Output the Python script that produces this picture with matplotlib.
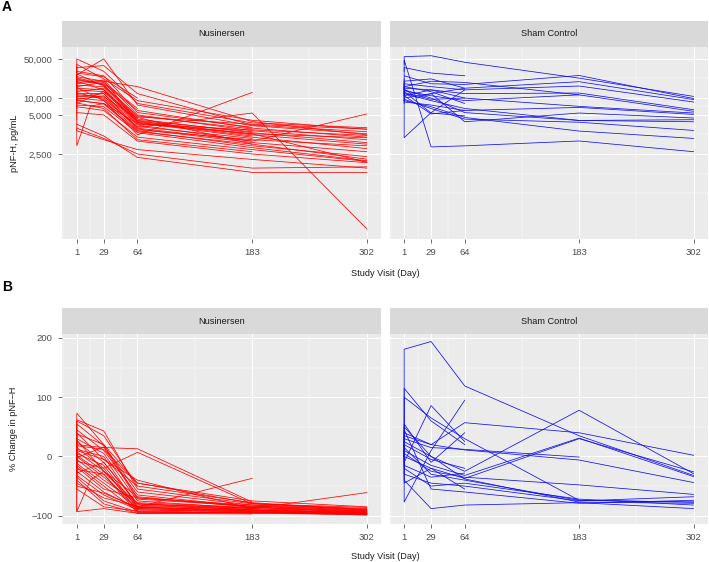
import numpy as np
import matplotlib
matplotlib.use("Agg")
import matplotlib.pyplot as plt

plt.rcParams['font.family'] = ['Liberation Sans', 'DejaVu Sans']

nan = np.nan

# first column = screening, plotted at day 1 like the original
visit_days = [1, 1, 15, 29, 64, 183, 302]
day_ticks = [1, 29, 64, 183, 302]
groups = ["Nusinersen", "Sham Control"]

# panel A, pNF-H in pg/mL (scr, d1, d15, d29, d64, d183, d302)
nus_pnfh = [
    [16000, 50000, nan, 30000, 8000, 3600, 2950],
    [22000, 40000, nan, 22000, 9000, 4000, 2750],
    [30000, 35000, nan, 38000, 12000, 3300, 2500],
    [20000, 26000, nan, 50000, 7500, 3200, 2300],
    [14000, 24000, nan, 20000, 16000, 3800, 2200],
    [18000, 21000, nan, 18000, 6000, 2900, 2000],
    [12000, 19000, nan, 21000, 5000, 2600, 1800],
    [10000, 17000, nan, 16000, 4200, 2400, 1600],
    [25000, 15000, nan, 14000, 3900, 2200, 1500],
    [9000, 13000, nan, 15000, 3600, 2000, 1250],
    [11000, 12000, nan, 12000, 3300, 1700, 5200],
    [8000, 11000, nan, 10000, 3000, 5400, 46],
    [7000, 10000, nan, 9000, 2200, 12600, nan],
    [13000, 9500, nan, 11000, 2800, 1600, 1100],
    [6500, 9000, nan, 8000, 2600, 1400, 900],
    [15000, 8000, nan, 13000, 4500, 1500, 810],
    [6000, 7500, nan, 7000, 2400, 1300, 760],
    [5500, 7000, nan, 6000, 2000, 1200, 740],
    [3500, 3400, nan, 2100, 870, 470, 470],
    [3000, 2900, nan, 1900, 1000, 560, 590],
    [6000, 1400, 7100, 8000, 3500, 2300, 710],
    [28000, 30000, nan, 25000, 5500, 3000, nan],
    [20000, 22000, nan, 17000, 4800, 2800, nan],
    [15000, 18000, nan, 20000, 4000, 2500, nan],
    [12000, 14000, nan, 13000, 3700, 2100, nan],
    [10000, 12500, nan, 9500, 3100, 1900, nan],
    [9000, 10500, nan, 12000, 2900, 1700, nan],
    [8500, 9200, nan, 7800, 2500, 1500, nan],
    [7000, 8200, nan, 6500, 1800, 1100, nan],
    [36000, 28000, nan, 24000, 10000, nan, nan],
    [17000, 16000, nan, 19000, 6500, nan, nan],
    [11000, 11500, nan, 10500, 4300, nan, nan],
    [26000, 20000, nan, 14000, 3400, 2700, 2150],
    [19000, 23000, nan, 17500, 3800, 2300, 1950],
    [4000, 5500, nan, 5000, 1700, 1000, 700],
    [2800, 2600, nan, 1800, 1200, 800, 560],
    [13000, 15500, nan, 9000, 2700, 1800, 1400],
    [24000, 27000, nan, 16500, 4600, 3400, 2800],
]

sham_pnfh = [
    [40000, 55000, nan, 57000, 43600, 22700, 10700],
    [30000, 48000, nan, 1340, 1400, 1710, 1100],
    [15000, 25000, nan, 18000, 17500, 25300, 9800],
    [22000, 20000, nan, 22000, 15000, 19600, 9400],
    [17000, 18000, nan, 16000, 14000, 16400, 8500],
    [14000, 15000, nan, 14000, 12000, 12300, 6200],
    [12000, 13500, nan, 11000, 9000, 11400, 5800],
    [11000, 12500, nan, 9500, 10000, 7100, 5400],
    [10000, 11000, nan, 5200, 6000, 6800, 5100],
    [9000, 10000, nan, 12000, 3770, 5400, 4400],
    [16000, 14000, nan, 10000, 5500, 3980, 4100],
    [20000, 12000, nan, 9000, 6500, 3980, 3770],
    [13000, 9000, nan, 7000, 4500, 2570, 1900],
    [8000, 9500, nan, 6500, 4200, 3700, 2640],
    [20000, 1960, nan, 5500, 14000, nan, nan],
    [25000, 35000, nan, 28000, 25000, nan, nan],
    [15000, 16000, nan, 20000, 19000, 11400, nan],
    [12000, 11000, nan, 14000, 10000, nan, nan],
    [9000, 8500, nan, 7500, 6000, nan, nan],
    [14000, 16000, nan, 13000, 8000, nan, nan],
    [18000, 13000, nan, 5400, 4800, nan, nan],
    [11000, 14500, 10000, 12000, 15000, nan, nan],
]

# panel B, % change in pNF-H
nus_pct = [
    [0, 73, nan, 20, -45, -75, -85],
    [0, 62, nan, 43, -55, -80, -88],
    [0, 60, nan, 35, -50, -78, -90],
    [0, 55, nan, 18, -60, -82, -92],
    [0, 45, nan, 10, -65, -85, -95],
    [0, 38, nan, 20, -70, -84, -93],
    [0, 30, nan, 5, -75, -88, -96],
    [0, 25, nan, -10, -80, -90, -97],
    [0, 20, nan, 15, 13, -77, nan],
    [0, 15, nan, -20, 7, -80, -86],
    [0, 12, nan, 0, -85, -92, -97],
    [0, 10, nan, -5, -40, -88, -61],
    [0, 8, nan, -25, -85, -37, nan],
    [0, 5, nan, -15, -88, -93, -98],
    [0, 2, nan, -30, -90, -94, -99],
    [0, 0, nan, -35, -82, -90, -96],
    [0, -5, nan, -40, -78, -86, -92],
    [0, -8, nan, -20, -92, -95, -97],
    [0, -12, nan, -45, -86, -90, -95],
    [0, -15, nan, -50, -93, -96, -98],
    [0, -18, nan, -55, -70, -82, -89],
    [0, -22, nan, -30, -95, -94, -96],
    [0, -25, nan, -60, -88, -91, -94],
    [0, -28, nan, -10, -80, -87, nan],
    [0, -32, nan, -65, -90, -93, nan],
    [0, -35, nan, -75, -94, -95, nan],
    [0, -40, nan, -80, -96, -97, nan],
    [0, -45, nan, -70, -84, -89, nan],
    [0, -55, nan, -85, -92, nan, nan],
    [0, -93, nan, -88, -96, -95, -97],
    [0, -93, -40, -25, -80, -88, -93],
    [0, 40, nan, -5, -50, nan, nan],
    [0, 28, nan, -25, -68, -86, -94],
    [0, 18, nan, 12, -45, -79, -91],
    [0, -2, nan, 16, -72, -84, -90],
    [0, -50, nan, -62, -86, -92, -96],
]

sham_pct = [
    [0, 181, nan, 194, 119, 35, -32],
    [0, 115, nan, 60, 20, nan, nan],
    [0, 100, nan, 65, 30, -74, -77],
    [0, -10, nan, 86, 25, nan, nan],
    [0, -77, nan, 10, 95, nan, nan],
    [0, 25, nan, 0, -25, 78, -29],
    [0, 40, nan, 20, 57, 40, 2],
    [0, 10, nan, -15, -32, 31, -34],
    [0, 0, nan, -20, -37, 30, -26],
    [0, 35, nan, 20, 11, -6, -44],
    [0, 30, nan, 15, 12, -1, nan],
    [0, 5, nan, -25, -35, -48, -64],
    [0, -40, nan, -88, -82, -78, -88],
    [0, 15, nan, -30, -40, -74, -77],
    [0, 50, nan, 0, -38, -77, -79],
    [0, -20, nan, -50, -45, -72, -82],
    [0, -30, nan, -45, -50, -75, -68],
    [0, 45, nan, -55, -60, -79, -74],
    [0, 20, nan, -5, -20, nan, nan],
    [0, 55, nan, -10, 40, nan, nan],
    [0, -15, nan, -35, -28, nan, nan],
    [0, -45, nan, -20, -55, nan, nan],
]

# the original labels its 1,000 break "2,500"
a_breaks = [1000, 5000, 10000, 50000]
a_labels = ["2,500", "5,000", "10,000", "50,000"]
b_breaks = [-100, 0, 100, 200]

W, H = 709, 562
fig = plt.figure(figsize=(W / 100, H / 100), dpi=100)

def px(x0, y0, x1, y1):
    return [x0 / W, 1 - y1 / H, (x1 - x0) / W, (y1 - y0) / H]

panel_x = [(62.3, 381.3), (389.7, 708.0)]
rows_y = [(21, 47, 239), (308.3, 334, 524.3)]
xlim = (-14.05, 317.05)

def minor_mid(b, lo, hi):
    b = list(b)
    b = [b[0] - (b[1] - b[0])] + b + [b[-1] + (b[-1] - b[-2])]
    m = [(u + v) / 2 for u, v in zip(b[:-1], b[1:])] + [b[0], b[-1]]
    return [v for v in m if lo <= v <= hi]

def style(ax, left):
    ax.set_facecolor('#EBEBEB')
    for s in ax.spines.values():
        s.set_visible(False)
    ax.set_xticks(day_ticks)
    ax.set_xticklabels([str(d) for d in day_ticks])
    ax.set_xticks(minor_mid(day_ticks, *xlim), minor=True)
    ax.tick_params(axis='both', length=3.2, width=0.5, color='#333333',
                   labelsize=6.8, labelcolor='#4D4D4D')
    ax.tick_params(axis='x', pad=3)
    ax.tick_params(axis='y', pad=4)
    ax.tick_params(which='minor', length=0)
    ax.grid(which='major', color='white', lw=0.75)
    ax.grid(which='minor', color='white', lw=0.35)
    ax.set_axisbelow(True)
    if not left:
        ax.tick_params(axis='y', labelleft=False, length=0)

def strip(rect, text):
    s = fig.add_axes(rect)
    s.set_facecolor('#D9D9D9')
    s.set_xticks([]); s.set_yticks([])
    for sp in s.spines.values():
        sp.set_visible(False)
    s.text(0.5, 0.5, text, ha='center', va='center', fontsize=6.6, color='#1A1A1A',
           transform=s.transAxes)

def draw(ax, rows, color):
    d = np.array(visit_days, float)
    for r in rows:
        r = np.array(r, float)
        m = ~np.isnan(r)
        ax.plot(d[m], r[m], color=color, lw=0.55)

colors = ['#FF0000', '#1010F0']
data_a = [nus_pnfh, sham_pnfh]
data_b = [nus_pct, sham_pct]

for row, (st, top, bot) in enumerate(rows_y):
    for k, (x0, x1) in enumerate(panel_x):
        strip(px(x0, st, x1, top), groups[k])
        ax = fig.add_axes(px(x0, top, x1, bot))
        style(ax, k == 0)
        if row == 0:
            ylim = (30.3, 81700)
            ax.set_yscale('log')
            ax.set_yticks(a_breaks)
            ax.set_yticklabels(a_labels)
            mins = minor_mid(np.log10(a_breaks), *np.log10(ylim))
            ax.set_yticks(10 ** np.array(mins), minor=True)
            ax.yaxis.set_minor_formatter(matplotlib.ticker.NullFormatter())
            draw(ax, data_a[k], colors[k])
        else:
            ylim = (-114.5, 206.7)
            ax.set_yticks(b_breaks)
            ax.set_yticks(minor_mid(b_breaks, *ylim), minor=True)
            draw(ax, data_b[k], colors[k])
        ax.tick_params(which='minor', length=0)
        ax.set_ylim(*ylim)
        ax.set_xlim(*xlim)

tkw = dict(fontsize=6.6, color='#1A1A1A', ha='center', va='center')
fig.text(15 / W, 1 - 143 / H, "pNF-H, pg/mL", rotation=90, **tkw)
fig.text(14 / W, 1 - 429 / H, "% Change in pNF\u2013H", rotation=90, **tkw)
fig.text(385 / W, 1 - 273 / H, "Study Visit (Day)", **tkw)
fig.text(385 / W, 1 - 556.5 / H, "Study Visit (Day)", **tkw)
fig.text(2 / W, 1 - 7 / H, "A", ha='left', va='center', fontsize=10, fontweight='bold')
fig.text(2 / W, 1 - 287 / H, "B", ha='left', va='center', fontsize=10, fontweight='bold')

fig.savefig("out.png", dpi=100)
